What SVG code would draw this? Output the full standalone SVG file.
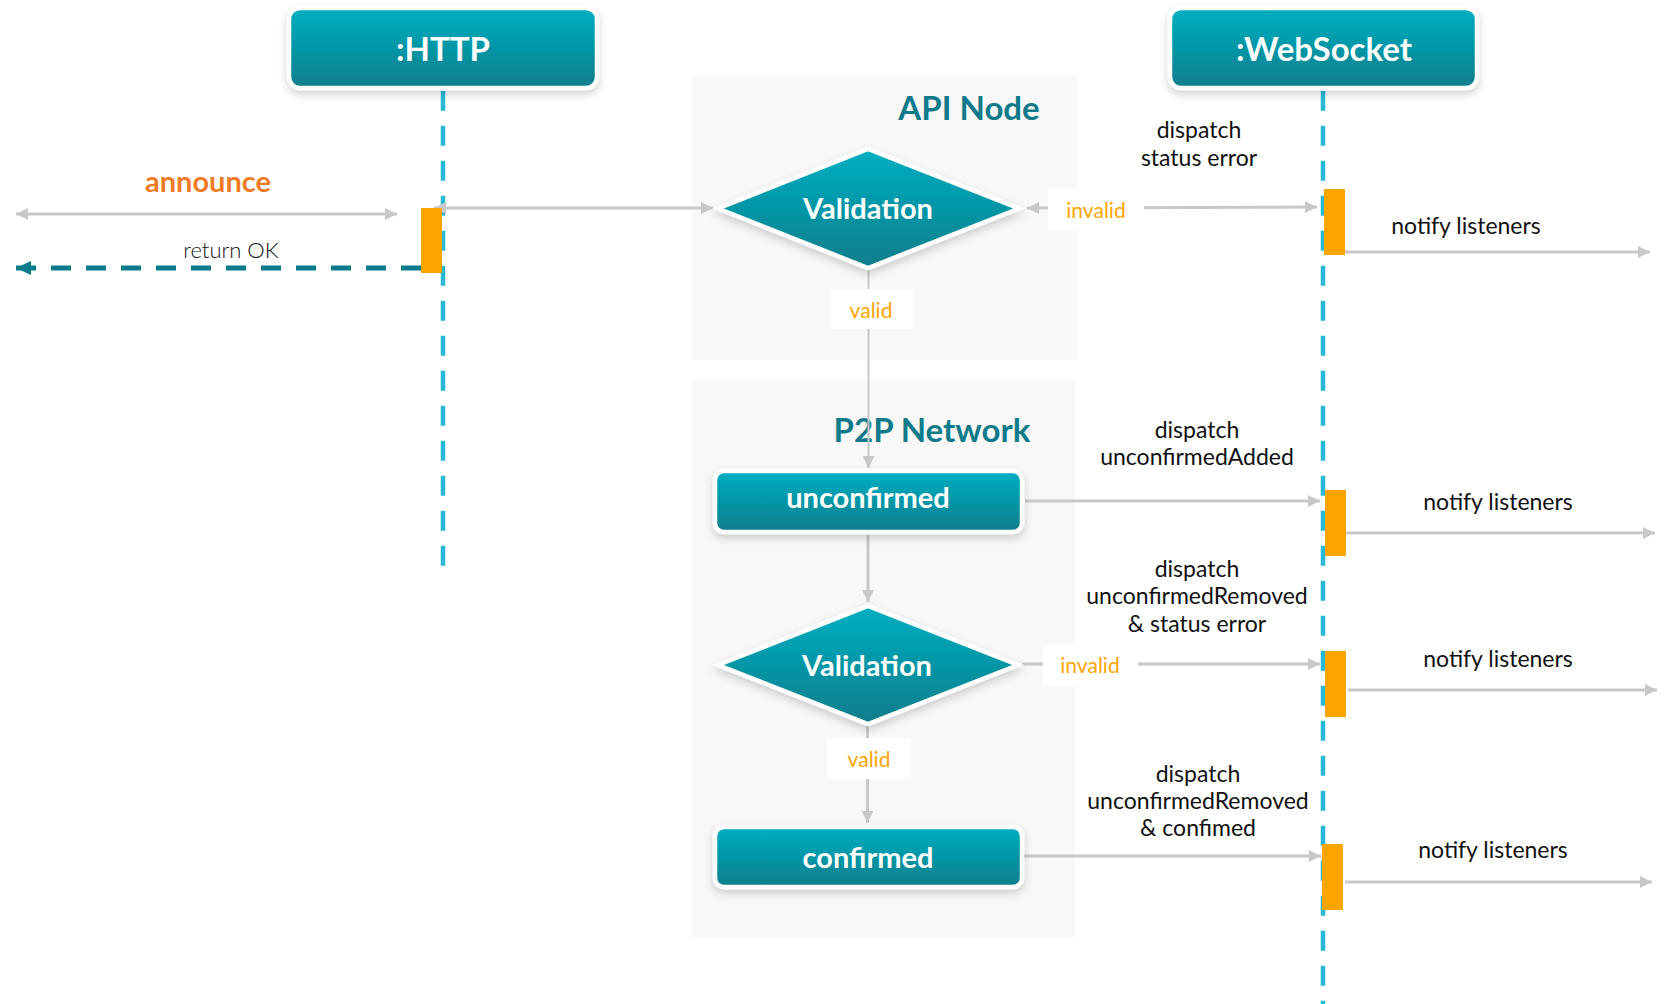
<svg xmlns="http://www.w3.org/2000/svg" width="1670" height="1004" viewBox="0 0 1670 1004">
<style>
text{font-family:Lato,"Open Sans","Liberation Sans",sans-serif}
.hdr{font-size:33px;font-weight:700;fill:#fff;text-anchor:middle}
.nodet{font-size:29px;font-weight:700;fill:#fff;text-anchor:middle}
.grp{font-size:33px;font-weight:700;fill:#0F7B8A;text-anchor:middle}
.lbl{font-size:23px;fill:#111;text-anchor:middle}
.cond{font-size:21px;fill:#FFA500;text-anchor:middle}
.life{stroke:#27B9D6;stroke-width:4.5;stroke-dasharray:20 15;fill:none}
.act{fill:#FFA500}
.conn{stroke:#C8C8C8;stroke-width:3;fill:none}
.box{fill:url(#tg);stroke:#fff;stroke-width:4.5;filter:url(#sh)}
.lblbox{fill:#fff}
.bg{fill:#F8F8F8}
</style>
<defs>
<linearGradient id="tg" x1="0" y1="0" x2="0" y2="1">
<stop offset="0" stop-color="#04AFC2"/>
<stop offset="1" stop-color="#087D8B"/>
</linearGradient>
<filter id="sh" x="-10%" y="-20%" width="120%" height="150%">
<feDropShadow dx="0" dy="4" stdDeviation="4" flood-color="#000" flood-opacity="0.18"/>
</filter>
<marker id="ah" markerWidth="12" markerHeight="12" refX="12" refY="6" orient="auto-start-reverse" markerUnits="userSpaceOnUse">
<path d="M0,0 L12,6 L0,12 z" fill="#C8C8C8"/>
</marker>
<marker id="ht" markerWidth="15" markerHeight="14" refX="15" refY="7" orient="auto-start-reverse" markerUnits="userSpaceOnUse">
<path d="M0,0 L15,7 L0,14 z" fill="#0B7C8B"/>
</marker>
</defs>

<rect x="0" y="0" width="1670" height="1004" fill="#fff"/>

<g id="group-api-node">
<rect class="bg" x="692" y="76" width="385" height="284"/>
<text class="grp" x="969" y="120">API Node</text>
</g>
<g id="group-p2p-network">
<rect class="bg" x="692" y="380" width="383" height="557"/>
<text class="grp" x="932" y="442">P2P Network</text>
</g>

<g id="lifelines">
<line class="life" x1="443" y1="90.7" x2="443" y2="565.7"/>
<line class="life" x1="1323" y1="90.7" x2="1323" y2="1004"/>
</g>

<g id="connectors">
<line class="conn" x1="16" y1="214" x2="397" y2="214" marker-start="url(#ah)" marker-end="url(#ah)"/>
<line x1="421" y1="268" x2="16" y2="268" stroke="#0B7C8B" stroke-width="5" stroke-dasharray="20 15" marker-end="url(#ht)"/>
<line class="conn" x1="434" y1="208" x2="713" y2="208" marker-start="url(#ah)" marker-end="url(#ah)"/>
<line class="conn" x1="1027" y1="208" x2="1317" y2="207" marker-start="url(#ah)" marker-end="url(#ah)"/>
<line class="conn" x1="1345" y1="252" x2="1650" y2="252" marker-end="url(#ah)"/>
<line class="conn" style="stroke-width:2" x1="868.5" y1="267" x2="868.5" y2="468" marker-end="url(#ah)"/>
<line class="conn" x1="1025" y1="501" x2="1320" y2="501" marker-end="url(#ah)"/>
<line class="conn" x1="1346" y1="533" x2="1655" y2="533" marker-end="url(#ah)"/>
<line class="conn" x1="868" y1="535" x2="868" y2="602" marker-end="url(#ah)"/>
<line class="conn" x1="1022" y1="664" x2="1320" y2="664" marker-end="url(#ah)"/>
<line class="conn" x1="1348" y1="690" x2="1657" y2="690" marker-end="url(#ah)"/>
<line class="conn" x1="867.5" y1="723" x2="867.5" y2="823" marker-end="url(#ah)"/>
<line class="conn" x1="1024" y1="856" x2="1321" y2="856" marker-end="url(#ah)"/>
<line class="conn" x1="1345" y1="882" x2="1652" y2="882" marker-end="url(#ah)"/>
<rect class="lblbox" x="1048" y="189" width="96" height="42"/>
<text class="cond" x="1096" y="218">invalid</text>
<rect class="lblbox" x="830" y="289" width="84" height="40"/>
<text class="cond" x="871" y="318">valid</text>
<rect class="lblbox" x="1043" y="645" width="95" height="41"/>
<text class="cond" x="1090" y="673">invalid</text>
<rect class="lblbox" x="827" y="738" width="84" height="41"/>
<text class="cond" x="869" y="767">valid</text>
<text x="208" y="192" style="font-size:29px;font-weight:700;fill:#F07B27;text-anchor:middle">announce</text>
<text x="231" y="258" style="font-size:22px;font-weight:300;fill:#111;text-anchor:middle">return OK</text>
<text class="lbl" x="1199" y="138">dispatch</text>
<text class="lbl" x="1199" y="166">status error</text>
<text class="lbl" x="1466" y="234">notify listeners</text>
<text class="lbl" x="1197" y="438">dispatch</text>
<text class="lbl" x="1197" y="465">unconfirmedAdded</text>
<text class="lbl" x="1498" y="510">notify listeners</text>
<text class="lbl" x="1197" y="577">dispatch</text>
<text class="lbl" x="1197" y="604">unconfirmedRemoved</text>
<text class="lbl" x="1197" y="632">&amp; status error</text>
<text class="lbl" x="1498" y="667">notify listeners</text>
<text class="lbl" x="1198" y="782">dispatch</text>
<text class="lbl" x="1198" y="809">unconfirmedRemoved</text>
<text class="lbl" x="1198" y="836">&amp; confimed</text>
<text class="lbl" x="1493" y="858">notify listeners</text>
</g>

<g id="activations">
<rect class="act" x="421" y="208" width="21" height="65"/>
<rect class="act" x="1324" y="189" width="21" height="66"/>
<rect class="act" x="1325" y="490" width="21" height="66"/>
<rect class="act" x="1325" y="651" width="21" height="66"/>
<rect class="act" x="1322" y="844" width="21" height="66"/>
</g>

<g id="node-http">
<rect class="box" x="289" y="8" width="308" height="80" rx="11"/>
<text class="hdr" x="443" y="61">:HTTP</text>
</g>
<g id="node-websocket">
<rect class="box" x="1170" y="8" width="307" height="80" rx="11"/>
<text class="hdr" x="1324" y="61">:WebSocket</text>
</g>
<g id="node-validation-api">
<polygon class="box" points="868,149 1019,208.5 868,268 718,208.5"/>
<text class="nodet" x="868" y="219">Validation</text>
</g>
<g id="node-unconfirmed">
<rect class="box" x="715" y="471" width="307" height="61" rx="9"/>
<text class="nodet" x="868" y="508">unconfirmed</text>
</g>
<g id="node-validation-p2p">
<polygon class="box" points="868,606 1018,665 868,724 718,665"/>
<text class="nodet" x="867" y="676">Validation</text>
</g>
<g id="node-confirmed">
<rect class="box" x="715" y="827" width="307" height="60" rx="9"/>
<text class="nodet" x="868" y="868">confirmed</text>
</g>
</svg>
